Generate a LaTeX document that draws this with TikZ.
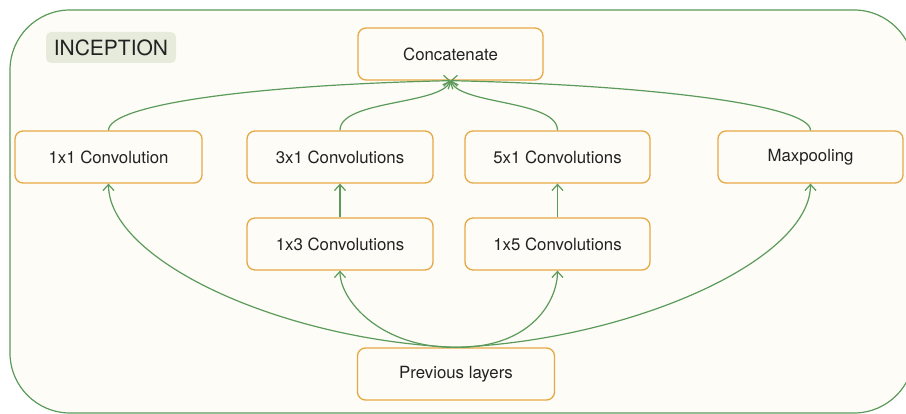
\documentclass[tikz,border=0pt]{standalone}
\usepackage{fontspec}
\setmainfont{TeX Gyre Heros}
\usetikzlibrary{arrows.meta}
\definecolor{lgreen}{HTML}{5B9A5A}
\definecolor{lorange}{HTML}{E6A845}
\definecolor{bgc}{HTML}{FDFCF7}
\definecolor{tagc}{HTML}{E7EBDC}
\definecolor{txt}{HTML}{222222}
\tikzset{
  box/.style={draw=lorange, line width=1.3pt, fill=bgc, rounded corners=8pt,
    minimum height=52pt, text=txt, font=\fontsize{16.8}{20}\selectfont, inner sep=0pt},
  conn/.style={draw=lgreen, line width=1.2pt, -{Straight Barb[length=6pt,width=11pt,line width=1.2pt]}},
}
\begin{document}
\begin{tikzpicture}[x=1pt,y=-1pt]
\useasboundingbox (0,0) rectangle (906,414);
\fill[white] (0,0) rectangle (906,414);
\clip (0,0) rectangle (906,414);
\draw[lgreen, line width=1.2pt, fill=bgc, rounded corners=60pt] (10,10) rectangle (914,413);
\node[fill=tagc, rounded corners=5pt, minimum width=130pt, minimum height=31pt, inner sep=0pt,
  text=txt, font=\fontsize{21}{25}\selectfont] (tag) at (111,47.5) {INCEPTION};
\node[box, minimum width=185pt] (cat) at (450.5,54) {Concatenate};
\node[box, minimum width=187pt] (c1) at (108.5,157) {1x1 Convolution};
\node[box, minimum width=186pt] (c31) at (340,157) {3x1 Convolutions};
\node[box, minimum width=185pt] (c51) at (557.5,157) {5x1 Convolutions};
\node[box, minimum width=185pt] (mp) at (810.5,157) {Maxpooling};
\node[box, minimum width=186pt] (c13) at (340,244) {1x3 Convolutions};
\node[box, minimum width=185pt] (c15) at (557.5,244) {1x5 Convolutions};
\node[box, minimum width=197pt] (prev) at (456,374) {Previous layers};
% top connectors
\draw[conn] (c1.north) .. controls (108.5,105) and (250,85) .. (cat.south);
\draw[conn] (c31.north) .. controls (340,100) and (440,105) .. (cat.south);
\draw[conn] (c51.north) .. controls (557.5,100) and (461,105) .. (cat.south);
\draw[conn] (mp.north) .. controls (810.5,105) and (650,85) .. (cat.south);
% middle
\draw[conn] (c13.north) -- (c31.south);
\draw[conn] (c15.north) -- (c51.south);
% bottom connectors
\draw[conn] (prev.north) .. controls (280,340) and (108.5,260) .. (c1.south);
\draw[conn] (prev.north) .. controls (380,348) and (340,300) .. (c13.south);
\draw[conn] (prev.north) .. controls (532,348) and (557.5,300) .. (c15.south);
\draw[conn] (prev.north) .. controls (632,340) and (810.5,260) .. (mp.south);
\end{tikzpicture}
\end{document}
